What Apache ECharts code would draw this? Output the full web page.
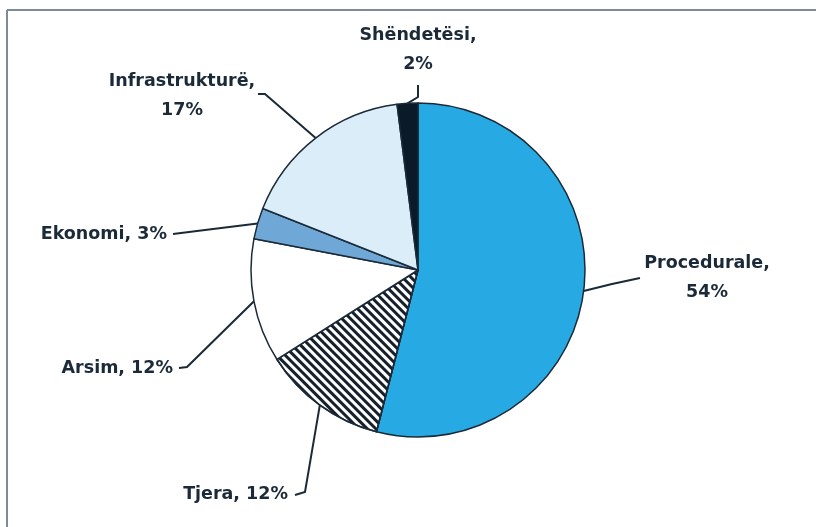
<!DOCTYPE html>
<html>
<head>
<meta charset="utf-8">
<script src="https://cdn.jsdelivr.net/npm/echarts@6/dist/echarts.min.js"></script>
<style>
html,body{margin:0;padding:0;background:#fff;}
#chart{width:816px;height:527px;}
</style>
</head>
<body>
<div id="chart"></div>
<script>
// ---- data ----
const categories = ['Procedurale', 'Tjera', 'Arsim', 'Ekonomi', 'Infrastrukturë', 'Shëndetësi'];
const values = [54, 12, 12, 3, 17, 2];

// ---- styling / layout (not data) ----
const sliceColors = ['#27aae3', '#ffffff', '#ffffff', '#6fa8d6', '#dcedfa', '#0b1a28'];
const twoLine = [true, false, false, false, true, true];
const labelPos = [
  {x: 707, y: 278, align: 'center', line: [[612, 284], [640, 278]]},
  {x: 288, y: 494, align: 'right', line: [[305, 492], [295, 495]]},
  {x: 173, y: 368, align: 'right', line: [[187, 367], [179, 368]]},
  {x: 167, y: 234, align: 'right', line: [[205, 230], [173, 234]]},
  {x: 182, y: 96, align: 'center', line: [[265, 94], [258, 94]]},
  {x: 418, y: 50, align: 'center', line: [[418, 97], [418, 85]]}
];
const inkColor = '#1b2a38';

const chart = echarts.init(document.getElementById('chart'), null, {renderer: 'canvas'});

const data = categories.map((name, i) => {
  const item = {name: name, value: values[i], itemStyle: {color: sliceColors[i]}};
  if (name === 'Tjera') {
    item.itemStyle.decal = {
      symbol: 'rect',
      symbolSize: 1,
      color: '#16202c',
      dashArrayX: [1, 0],
      dashArrayY: [2.5, 3],
      rotation: Math.PI / 4
    };
  }
  return item;
});

const option = {
  backgroundColor: '#ffffff',
  animation: false,
  graphic: [
    {type: 'line', shape: {x1: 7, y1: 10, x2: 816, y2: 10}, style: {stroke: '#7d8a97', lineWidth: 2}},
    {type: 'line', shape: {x1: 7, y1: 10, x2: 7, y2: 527}, style: {stroke: '#7d8a97', lineWidth: 2}}
  ],
  series: [{
    type: 'pie',
    center: [418, 270],
    radius: 167,
    startAngle: 90,
    clockwise: true,
    avoidLabelOverlap: false,
    itemStyle: {borderColor: '#1b2a38', borderWidth: 1.5},
    label: {
      show: true,
      position: 'outside',
      color: inkColor,
      fontFamily: 'DejaVu Sans',
      fontWeight: 'bold',
      fontSize: 17.5,
      lineHeight: 29,
      align: 'center',
      formatter: function (p) {
        return twoLine[p.dataIndex] ? (p.name + ',\n' + p.value + '%') : (p.name + ', ' + p.value + '%');
      }
    },
    labelLine: {
      show: true,
      length: 10,
      length2: 10,
      smooth: false,
      lineStyle: {color: inkColor, width: 2}
    },
    labelLayout: function (params) {
      const L = labelPos[params.dataIndex];
      const start = params.labelLinePoints ? params.labelLinePoints[0] : L.line[0];
      return {
        x: L.x,
        y: L.y,
        align: L.align,
        verticalAlign: 'middle',
        labelLinePoints: [start, L.line[0], L.line[1]]
      };
    },
    data: data
  }]
};
chart.setOption(option);
</script>
</body>
</html>
